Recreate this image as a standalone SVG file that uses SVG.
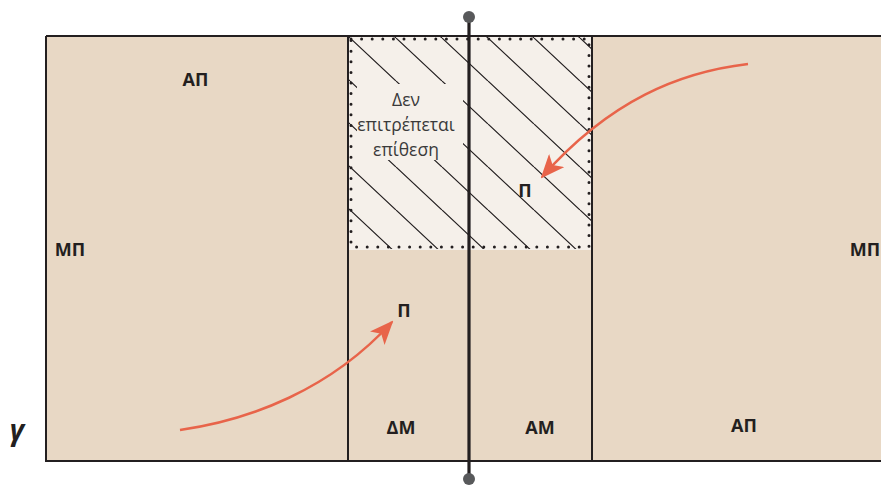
<svg xmlns="http://www.w3.org/2000/svg" width="881" height="485" viewBox="0 0 881 485">
<defs>
<style>
.lbl{font-family:"Open Sans","Liberation Sans",sans-serif;font-weight:bold;font-size:18px;fill:#231f20;text-anchor:middle}
.note{font-family:"Open Sans","Liberation Sans",sans-serif;font-size:17.5px;fill:#3a3a3a;text-anchor:middle}
.ln{stroke:#231f20;stroke-width:2;fill:none}
.arrow{stroke:#e8644a;stroke-width:2.5;fill:none;marker-end:url(#ah)}
.hatch{stroke:#231f20;stroke-width:1.2}
</style>
<marker id="ah" markerUnits="userSpaceOnUse" markerWidth="24" markerHeight="20" viewBox="0 0 24 20" refX="22" refY="10" orient="auto">
<path d="M0,0 L24,10 L0,20 L6,10 z" fill="#e8644a"/>
</marker>
<pattern id="hp" patternUnits="userSpaceOnUse" width="46" height="43" patternTransform="translate(350,38)">
<path d="M-46,0 L0,43 M0,0 L46,43 M46,0 L92,43" class="hatch"/>
</pattern>
<clipPath id="hc"><rect x="349" y="37" width="242" height="212"/></clipPath>
</defs>
<g id="court">
<rect x="46" y="36" width="840" height="425" fill="#e8d8c5"/>
<rect x="348" y="36" width="244" height="214" fill="#f5f0ea"/>
<rect x="348" y="36" width="244" height="214" fill="url(#hp)" clip-path="url(#hc)"/>
<rect x="357" y="84" width="106" height="76" fill="#f5f0ea"/>
<rect x="351" y="39" width="238" height="208" fill="none" stroke="#231f20" stroke-width="3" stroke-dasharray="0 10.6" stroke-linecap="round"/>
<path d="M46,36 H881 M46,36 V461 H881" class="ln"/>
<path d="M348,36 V461 M592,36 V461" class="ln"/>
</g>
<g id="net">
<line x1="469" y1="17" x2="469" y2="478" stroke="#231f20" stroke-width="3.2"/>
<circle cx="469" cy="17" r="6" fill="#58595b"/>
<circle cx="469" cy="479" r="6" fill="#58595b"/>
</g>
<g id="labels">
<text class="lbl" x="195.5" y="86">ΑΠ</text>
<text class="lbl" x="70" y="256">ΜΠ</text>
<text class="lbl" x="865" y="256">ΜΠ</text>
<text class="lbl" x="525" y="197">Π</text>
<text class="lbl" x="404" y="317">Π</text>
<text class="lbl" x="401" y="434">ΔΜ</text>
<text class="lbl" x="540" y="434">ΑΜ</text>
<text class="lbl" x="744" y="432">ΑΠ</text>
<text x="17" y="440" font-family="Open Sans, Liberation Sans, sans-serif" font-weight="bold" font-style="italic" font-size="28" fill="#231f20" text-anchor="middle">γ</text>
</g>
<g id="no-attack-note">
<text class="note" x="406" y="106">Δεν</text>
<text class="note" x="406" y="131">επιτρέπεται</text>
<text class="note" x="406" y="156">επίθεση</text>
</g>
<g id="connectors">
<path class="arrow" d="M748,64 C680,72 610,100 542,177"/>
<path class="arrow" d="M180,430 C250,420 330,390 392,322"/>
</g>
</svg>
